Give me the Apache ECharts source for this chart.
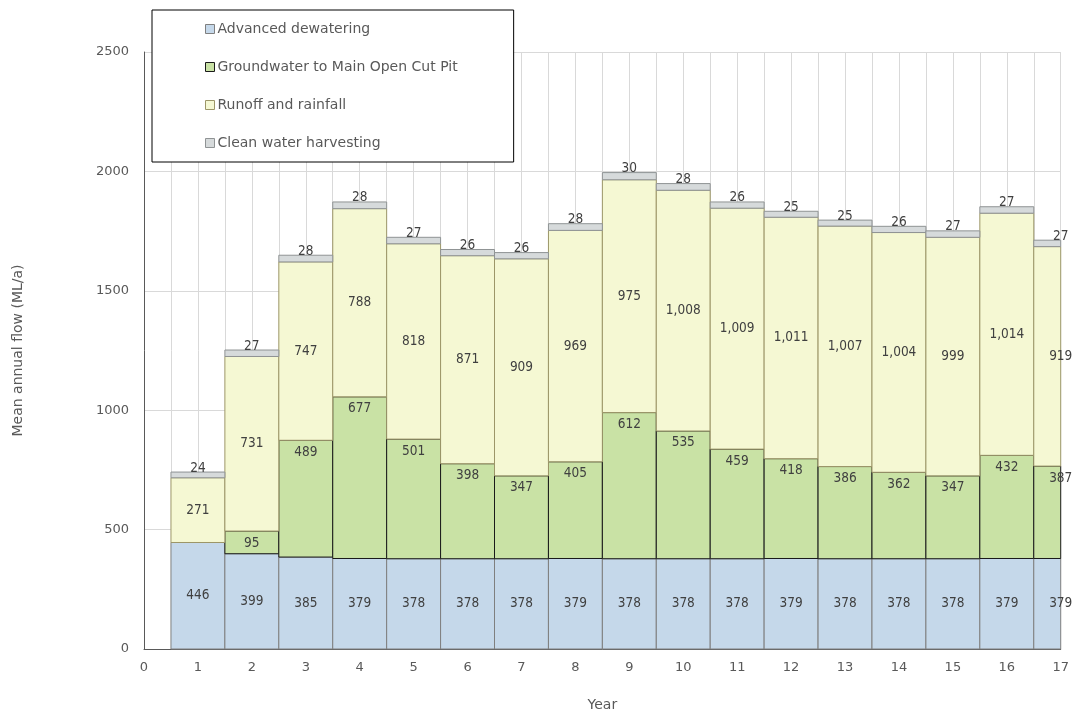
<!DOCTYPE html>
<html>
<head>
<meta charset="utf-8">
<script src="https://cdn.jsdelivr.net/npm/echarts@6/dist/echarts.min.js"></script>
<style>
  html, body { margin: 0; padding: 0; background: #fff; }
  #chart { width: 1072px; height: 717px; }
</style>
</head>
<body>
<div id="chart"></div>
<script>
// Mean annual inflows by year (ML/a), stacked by source
const years = [1, 2, 3, 4, 5, 6, 7, 8, 9, 10, 11, 12, 13, 14, 15, 16, 17];
const advancedDewatering = [446, 399, 385, 379, 378, 378, 378, 379, 378, 378, 378, 379, 378, 378, 378, 379, 379];
const groundwaterPit = [0, 95, 489, 677, 501, 398, 347, 405, 612, 535, 459, 418, 386, 362, 347, 432, 387];
const runoffRainfall = [271, 731, 747, 788, 818, 871, 909, 969, 975, 1008, 1009, 1011, 1007, 1004, 999, 1014, 919];
const cleanWater = [24, 27, 28, 28, 27, 26, 26, 28, 30, 28, 26, 25, 25, 26, 27, 27, 27];

const FONT = "'DejaVu Sans', sans-serif";
const FONT_NUM = "'DejaVu Sans Condensed', 'DejaVu Sans', sans-serif";
const TEXT = '#595959';
const LABEL = '#404040';

const layers = [
  { name: 'Advanced dewatering', values: advancedDewatering, fill: '#c5d8ea', stroke: '#7f7f7f', labelPos: 'middle' },
  { name: 'Groundwater to Main Open Cut Pit', values: groundwaterPit, fill: '#c9e2a5', stroke: '#1a1a1a', labelPos: 'insideTop' },
  { name: 'Runoff and rainfall', values: runoffRainfall, fill: '#f5f8d3', stroke: '#9c9668', labelPos: 'middle' },
  { name: 'Clean water harvesting', values: cleanWater, fill: '#d6dadb', stroke: '#8f9394', labelPos: 'top' }
];

// cumulative bases for stacking
const base = years.map(() => 0);
const series = layers.map((layer, li) => {
  const data = years.map((yr, i) => {
    const b = base[i];
    base[i] += layer.values[i];
    return [yr, b, layer.values[i]];
  });
  return {
    name: layer.name,
    type: 'custom',
    z: 2 + li,
    itemStyle: { color: layer.fill, borderColor: layer.stroke },
    encode: { x: 0, y: 1 },
    data: data,
    renderItem: function (params, api) {
      const x = api.value(0);
      const b = api.value(1);
      const v = api.value(2);
      if (!v) return null;
      const p0 = api.coord([x - 0.5, b]);
      const p1 = api.coord([x + 0.5, b + v]);
      const cs = params.coordSys;
      // bars are one year wide; the last one is cut at the right edge of the plot
      const rect = echarts.graphic.clipRectByRect(
        { x: p0[0], y: p1[1], width: p1[0] - p0[0], height: p0[1] - p1[1] },
        { x: cs.x, y: cs.y - 40, width: cs.width, height: cs.height + 40 }
      );
      const cx = api.coord([x, 0])[0];
      let ty, va;
      if (layer.labelPos === 'insideTop') { ty = p1[1] + 5; va = 'top'; }
      else if (layer.labelPos === 'top') { ty = p1[1] + 3; va = 'bottom'; }
      else { ty = (p0[1] + p1[1]) / 2; va = 'middle'; }
      return {
        type: 'group',
        children: [
          rect ? {
            type: 'rect',
            shape: rect,
            style: { fill: layer.fill, stroke: layer.stroke, lineWidth: 1 }
          } : null,
          {
            type: 'text',
            z2: 10,
            style: {
              x: cx, y: ty,
              text: v.toLocaleString('en-US'),
              align: 'center', verticalAlign: va,
              fill: LABEL, font: '13.5px ' + FONT_NUM
            }
          }
        ].filter(Boolean)
      };
    }
  };
});

const chart = echarts.init(document.getElementById('chart'), null, { renderer: 'canvas' });
chart.setOption({
  animation: false,
  backgroundColor: '#ffffff',
  textStyle: { fontFamily: FONT },
  grid: { left: 144, right: 11, top: 52, bottom: 65, containLabel: false },
  legend: {
    orient: 'vertical',
    left: 152, top: 10,
    padding: [12, 56, 12, 53],
    itemGap: 24,
    itemWidth: 9, itemHeight: 9,
    icon: 'rect',
    borderColor: '#000', borderWidth: 1,
    backgroundColor: '#fff',
    textStyle: { color: TEXT, fontSize: 14, fontFamily: FONT, padding: [0, 0, 0, -2] },
    data: layers.map(l => ({ name: l.name, itemStyle: { color: l.fill, borderColor: l.stroke, borderWidth: 1 } })),
    z: 20
  },
  xAxis: {
    type: 'value',
    min: 0, max: 17, interval: 1,
    name: 'Year',
    nameLocation: 'middle',
    nameGap: 49,
    nameTextStyle: { color: TEXT, fontSize: 14, fontFamily: FONT },
    axisLine: { show: true, lineStyle: { color: '#595959', width: 1 } },
    axisTick: { show: false },
    axisLabel: { color: TEXT, fontSize: 13, margin: 12, fontFamily: FONT },
    splitLine: { show: true, lineStyle: { color: '#d9d9d9' } },
    minorTick: { show: false, splitNumber: 2 },
    minorSplitLine: { show: true, lineStyle: { color: '#d9d9d9' } }
  },
  yAxis: {
    type: 'value',
    min: 0, max: 2500, interval: 500,
    name: 'Mean annual flow (ML/a)',
    nameLocation: 'middle',
    nameGap: 119,
    nameTextStyle: { color: TEXT, fontSize: 14, fontFamily: FONT },
    axisLine: { show: true, lineStyle: { color: '#595959', width: 1 } },
    axisTick: { show: false },
    axisLabel: { color: TEXT, fontSize: 13, margin: 15, fontFamily: FONT, formatter: v => String(v) },
    splitLine: { show: true, lineStyle: { color: '#d9d9d9' } }
  },
  series: series
});
</script>
</body>
</html>
